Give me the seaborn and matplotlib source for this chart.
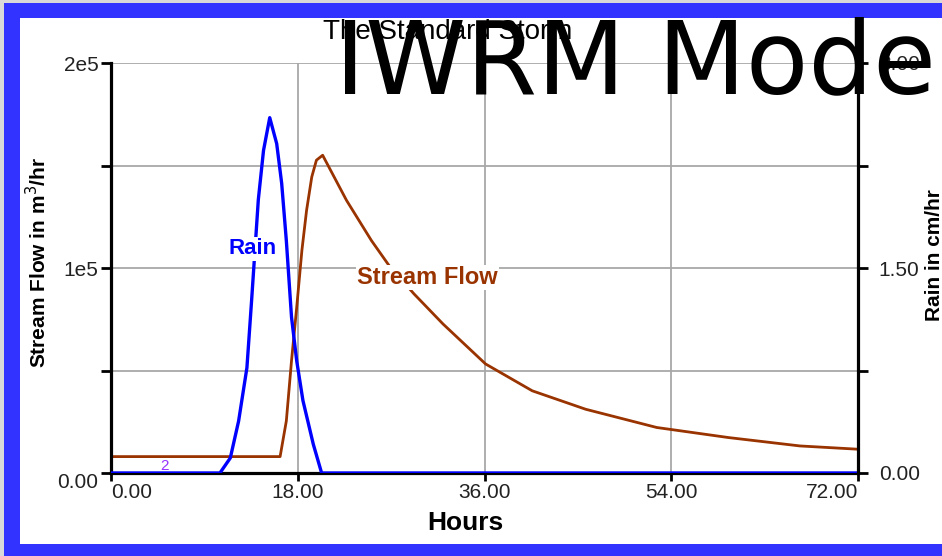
import matplotlib
matplotlib.use("Agg")
import matplotlib.pyplot as plt
import seaborn as sns
from matplotlib.patches import Rectangle

# Data
rain_hours = [0, 10.5, 11.5, 12.3, 13.1, 13.55, 14.2, 14.7, 15.3, 15.97, 16.45,
              16.9, 17.4, 17.9, 18.5, 19.5, 20.3, 72]
rain_cm_hr = [0, 0, 0.11, 0.38, 0.77, 1.26, 2.0, 2.36, 2.6, 2.41, 2.12,
              1.70, 1.14, 0.82, 0.53, 0.21, 0, 0]

flow_hours = [0, 16.3, 16.9, 17.4, 17.9, 18.4, 18.85, 19.35, 19.8, 20.4, 22.7,
              25.1, 26.8, 29.2, 32.0, 36.1, 40.6, 45.75, 52.6, 59.5, 66.4, 72]
flow_m3_hr = [8000, 8000, 25400, 54800, 80800, 108600, 128100, 144400, 152600,
              155000, 133000, 113400, 101200, 87400, 72700, 53200, 40100, 31100,
              22200, 17300, 13200, 11600]

x_ticks = [0, 18, 36, 54, 72]
x_labels = ["0.00", "18.00", "36.00", "54.00", "72.00"]
flow_ticks = [0, 50000, 100000, 150000, 200000]
flow_labels = ["0.00", "", "1e5", "", "2e5"]
rain_ticks = [0, 0.75, 1.5, 2.25, 3.0]
rain_labels = ["0.00", "", "1.50", "", "3.00"]

sns.set_style("white")
plt.rcParams["font.family"] = ["Liberation Sans", "DejaVu Sans"]
plt.rcParams["text.color"] = "black"

W, H = 942, 556
fig = plt.figure(figsize=(W / 100, H / 100), dpi=100, facecolor="#d9d9d9")

# frame: gray edge, blue band, white page (behind the axes)
fig.patches.append(Rectangle((4 / W, 0), 1, (H - 3) / H, transform=fig.transFigure,
                             facecolor="#3333ff", edgecolor="none", zorder=-2))
fig.patches.append(Rectangle((20 / W, 12 / H), 1, 526 / H, transform=fig.transFigure,
                             facecolor="white", edgecolor="none", zorder=-1))

ax = fig.add_axes([111 / W, 83 / H, 747 / W, 410 / H])
ax.set_facecolor("none")
ax2 = ax.twinx()
ax2.set_facecolor("none")

flow_color = "#993300"
rain_color = "#0000ff"

sns.lineplot(x=flow_hours, y=flow_m3_hr, ax=ax, color=flow_color, linewidth=2.0)
sns.lineplot(x=rain_hours, y=rain_cm_hr, ax=ax2, color=rain_color, linewidth=2.4)

ax.set_xlim(0, 72)
ax.set_ylim(0, 200000)
ax2.set_ylim(0, 3.0)

ax.set_xticks(x_ticks)
ax.set_xticklabels(x_labels)
ax.set_yticks(flow_ticks)
ax.set_yticklabels(flow_labels)
ax2.set_yticks(rain_ticks)
ax2.set_yticklabels(rain_labels)

xl = ax.get_xticklabels()
xl[0].set_ha("left")
xl[-1].set_ha("right")
ax.get_yticklabels()[0].set_va("top")

ax.grid(True, color="#a8a8a8", linewidth=1.3)
ax.set_axisbelow(True)

for s in ["top", "right"]:
    ax.spines[s].set_visible(False)
for s in ["top", "left", "bottom"]:
    ax2.spines[s].set_visible(False)
for s in ["left", "bottom"]:
    ax.spines[s].set_linewidth(2.3)
    ax.spines[s].set_color("black")
ax2.spines["right"].set_linewidth(2.3)
ax2.spines["right"].set_color("black")

ax.tick_params(axis="x", direction="out", length=6, width=2, pad=1,
               labelsize=15, labelcolor="#222222", bottom=True, color="black")
ax.tick_params(axis="y", direction="out", length=7, width=2, pad=2,
               labelsize=15, labelcolor="#222222", left=True, color="black")
ax2.tick_params(axis="y", direction="out", length=7, width=2, pad=8,
                labelsize=15, labelcolor="#222222", right=True, color="black")

ax.set_xlabel("")
ax.set_ylabel("")
ax2.set_ylabel("")

fig.text(465 / W, 1 - 523 / H, "Hours", ha="center", va="center",
         fontsize=19, fontweight="bold")
fig.text(38 / W, 1 - 262 / H, "Stream Flow in m$^3$/hr", ha="center", va="center",
         rotation=90, fontsize=15, fontweight="bold")
fig.text(935 / W, 1 - 255 / H, "Rain in cm/hr", ha="center", va="center",
         rotation=90, fontsize=15, fontweight="bold")
fig.text(448 / W, 1 - 32 / H, "The Standard Storm", ha="center", va="center",
         fontsize=20)

ax2.text(13.6, 1.64, "Rain", color=rain_color, fontsize=16, fontweight="bold",
         ha="center", va="center",
         bbox=dict(facecolor="white", edgecolor="none", pad=1))
ax2.text(30.5, 1.43, "Stream Flow", color=flow_color, fontsize=17, fontweight="bold",
         ha="center", va="center",
         bbox=dict(facecolor="white", edgecolor="none", pad=1))
ax2.text(5.2, 0.05, "2", color="#9933ff", fontsize=11, ha="center", va="center")

fig.text(335 / W, 1 - 93 / H, "IWRM Mode", ha="left", va="baseline",
         fontsize=73.5, family="DejaVu Sans", color="black")

fig.savefig("out.png", dpi=100, facecolor=fig.get_facecolor())
